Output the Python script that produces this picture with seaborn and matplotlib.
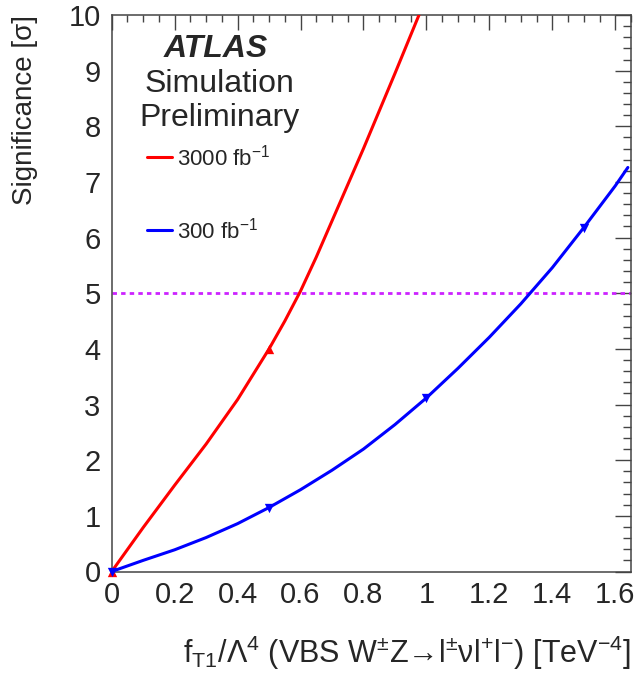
import matplotlib
matplotlib.use("Agg")
import matplotlib.pyplot as plt
import seaborn as sns
import pandas as pd
from matplotlib.ticker import MultipleLocator, FuncFormatter
from matplotlib.lines import Line2D

# ---- data ----
red_x = [0, 0.1, 0.2, 0.3, 0.4, 0.5, 0.55, 0.6, 0.65, 0.7, 0.8, 0.9, 0.98]
red_y = [0, 0.79, 1.55, 2.29, 3.09, 4.0, 4.5, 5.04, 5.65, 6.30, 7.60, 8.95, 10.05]
red_nodes_x = [0, 0.5]
red_nodes_y = [0, 4.0]

blue_x = [0, 0.1, 0.2, 0.3, 0.4, 0.5, 0.6, 0.7, 0.8, 0.9, 1.0, 1.1, 1.2, 1.3, 1.4, 1.5, 1.6, 1.64]
blue_y = [0, 0.20, 0.39, 0.61, 0.86, 1.15, 1.47, 1.82, 2.20, 2.64, 3.12, 3.65, 4.21, 4.81, 5.46, 6.18, 6.93, 7.26]
blue_nodes_x = [0, 0.5, 1.0, 1.5]
blue_nodes_y = [0, 1.15, 3.12, 6.18]

threshold = 5
series_labels = ["3000 fb$^{-1}$", "300 fb$^{-1}$"]
x_ticks = [0, 0.2, 0.4, 0.6, 0.8, 1.0, 1.2, 1.4, 1.6]
y_ticks = list(range(0, 11))

red_df = pd.DataFrame({"x": red_x, "y": red_y})
blue_df = pd.DataFrame({"x": blue_x, "y": blue_y})
red_nodes = pd.DataFrame({"x": red_nodes_x, "y": red_nodes_y})
blue_nodes = pd.DataFrame({"x": blue_nodes_x, "y": blue_nodes_y})

sns.set_style("white")
plt.rcParams["font.family"] = ["Liberation Sans", "DejaVu Sans"]
plt.rcParams["mathtext.fontset"] = "custom"
plt.rcParams["mathtext.rm"] = "Liberation Sans"
plt.rcParams["mathtext.it"] = "Liberation Sans:italic"
plt.rcParams["mathtext.bf"] = "Liberation Sans:bold"
plt.rcParams["mathtext.sf"] = "Liberation Sans"

fig = plt.figure(figsize=(6.44, 6.78), dpi=100)
W, H = 644, 678
L, R, T, B = 111.7, 631.0, 15.0, 571.5
ax = fig.add_axes([L / W, 1 - B / H, (R - L) / W, (B - T) / H])

RED = "#ff0000"
BLUE = "#0000ff"
MAG = "#cc22ff"

ax.axhline(threshold, color=MAG, lw=2.0, linestyle=(0, (1.6, 1.5)), zorder=2)

sns.lineplot(data=red_df, x="x", y="y", color=RED, lw=2.2, sort=False,
             estimator=None, ax=ax, zorder=3, solid_joinstyle="round")
sns.lineplot(data=blue_df, x="x", y="y", color=BLUE, lw=2.2, sort=False,
             estimator=None, ax=ax, zorder=3, solid_joinstyle="round")
sns.scatterplot(data=red_nodes, x="x", y="y", color=RED, marker="^", s=45,
                linewidth=0, ax=ax, zorder=4, clip_on=False)
sns.scatterplot(data=blue_nodes, x="x", y="y", color=BLUE, marker="v", s=45,
                linewidth=0, ax=ax, zorder=4, clip_on=False)

ax.set_xlim(0, 1.65)
ax.set_ylim(0, 10)

ax.xaxis.set_major_locator(MultipleLocator(0.2))
ax.xaxis.set_minor_locator(MultipleLocator(0.05))
ax.yaxis.set_major_locator(MultipleLocator(1))
ax.yaxis.set_minor_locator(MultipleLocator(0.2))
ax.set_xticks(x_ticks)
ax.set_yticks(y_ticks)
ax.xaxis.set_major_formatter(FuncFormatter(lambda v, p: "%g" % round(v, 3)))
ax.yaxis.set_major_formatter(FuncFormatter(lambda v, p: "%g" % v))

spine_c = "#444444"
for s in ax.spines.values():
    s.set_color(spine_c)
    s.set_linewidth(1.1)
    s.set_visible(True)

ax.tick_params(axis="both", which="both", direction="in", top=True, right=True,
               color=spine_c, width=1.0)
ax.tick_params(axis="x", which="major", length=10.5, labelsize=21, pad=7)
ax.tick_params(axis="x", which="minor", length=5)
ax.tick_params(axis="y", which="major", length=11.5, labelsize=21, pad=8)
ax.tick_params(axis="y", which="minor", length=5.5)

ax.set_xlabel(r"f$_{\mathrm{T1}}$/Λ$^{4}$ (VBS W$^{\pm}$Z→l$^{\pm}$νl$^{+}$l$^{-}$) [TeV$^{-4}$]",
              fontsize=22, loc="right")
ax.xaxis.set_label_coords(1.0, -0.112)
ax.set_ylabel("Significance [σ]", fontsize=20, loc="top")
ax.yaxis.set_label_coords(-0.141, 1.0)

ax.text(0.20, 0.925, "ATLAS", transform=ax.transAxes, ha="center", va="baseline",
        fontsize=23, fontweight="bold", fontstyle="italic")
ax.text(0.208, 0.862, "Simulation", transform=ax.transAxes, ha="center",
        va="baseline", fontsize=23)
ax.text(0.208, 0.80, "Preliminary", transform=ax.transAxes, ha="center",
        va="baseline", fontsize=23)

handles = [Line2D([], [], color=RED, lw=2.2), Line2D([], [], color=BLUE, lw=2.2)]
ax.legend(handles, series_labels, loc="upper left", bbox_to_anchor=(0.068, 0.768),
          frameon=False, fontsize=16, handlelength=1.12, handletextpad=0.25,
          labelspacing=2.13, borderpad=0, borderaxespad=0)

fig.savefig("out.png", dpi=100)
